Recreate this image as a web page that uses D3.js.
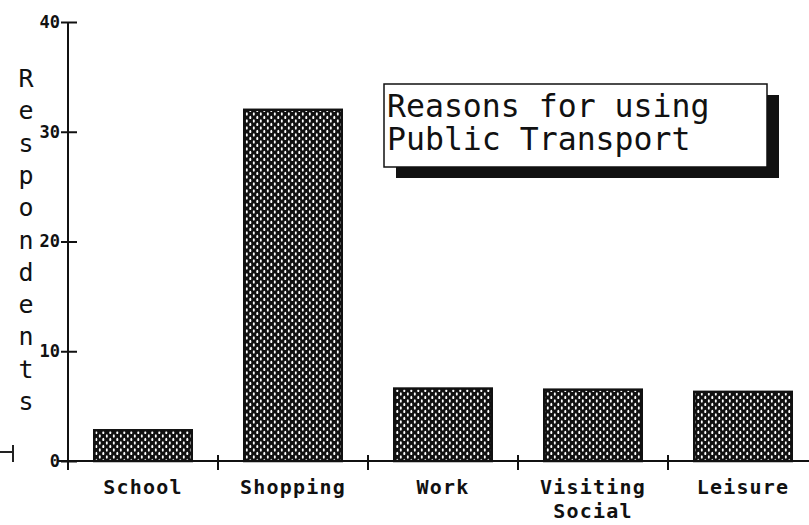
<!DOCTYPE html>
<html>
<head>
<meta charset="utf-8">
<script src="https://cdn.jsdelivr.net/npm/d3@7"></script>
<style>
  body { margin: 0; background: #fff; }
  svg { display: block; }
</style>
</head>
<body>
<svg id="chart" width="809" height="525"></svg>
<script>
// data
const categories = ['School', 'Shopping', 'Work', 'Visiting Social', 'Leisure'];
const respondents = [2.8, 32, 6.6, 6.5, 6.3];
const yTicks = [0, 10, 20, 30, 40];
const yTitle = 'Respondents';
const titleLines = ['Reasons for using', 'Public Transport'];

const svg = d3.select('#chart');
const mono = '"DejaVu Sans Mono", "Liberation Mono", monospace';

const x = d3.scaleBand()
    .domain(categories)
    .range([68, 818])
    .paddingInner(0.35)
    .paddingOuter(0.175);

const y = d3.scaleLinear()
    .domain([0, 40])
    .range([461, 22]);

// dotted fill like the old bitmap pattern
const defs = svg.append('defs');
const pat = defs.append('pattern')
    .attr('id', 'dots')
    .attr('patternUnits', 'userSpaceOnUse')
    .attr('width', 7)
    .attr('height', 7);
pat.append('rect').attr('width', 7).attr('height', 7).attr('fill', '#111');
pat.append('ellipse').attr('cx', 1.8).attr('cy', 2).attr('rx', 1).attr('ry', 1.8).attr('fill', '#fff');
pat.append('ellipse').attr('cx', 5.3).attr('cy', 5.5).attr('rx', 1).attr('ry', 1.8).attr('fill', '#fff');

// bars
svg.selectAll('rect.bar')
    .data(categories)
    .join('rect')
    .attr('class', 'bar')
    .attr('x', d => x(d))
    .attr('width', x.bandwidth())
    .attr('y', (d, i) => y(respondents[i]))
    .attr('height', (d, i) => y(0) - y(respondents[i]))
    .attr('fill', 'url(#dots)')
    .attr('stroke', '#111')
    .attr('stroke-width', 2.5);

// y axis
const yAxis = svg.append('g')
    .attr('transform', 'translate(68,0)')
    .call(d3.axisLeft(y).tickValues(yTicks).tickSize(7).tickPadding(1));
yAxis.select('.domain').remove();
yAxis.selectAll('.tick line')
    .attr('x2', -7)
    .attr('x1', 9)
    .attr('stroke', '#111')
    .attr('stroke-width', 2);
yAxis.selectAll('.tick text')
    .attr('font-family', mono)
    .attr('font-size', 17)
    .attr('font-weight', 'bold')
    .attr('fill', '#111');

svg.append('line')
    .attr('x1', 68).attr('x2', 68)
    .attr('y1', y(40)).attr('y2', y(0) + 9)
    .attr('stroke', '#111')
    .attr('stroke-width', 2);

// x axis
svg.append('line')
    .attr('x1', 58).attr('x2', 809)
    .attr('y1', y(0)).attr('y2', y(0))
    .attr('stroke', '#111')
    .attr('stroke-width', 2);

svg.selectAll('line.xtick')
    .data(categories.slice(1))
    .join('line')
    .attr('class', 'xtick')
    .attr('x1', d => x(d) - x.step() * x.paddingInner() / 2)
    .attr('x2', d => x(d) - x.step() * x.paddingInner() / 2)
    .attr('y1', y(0) - 6)
    .attr('y2', y(0) + 9)
    .attr('stroke', '#111')
    .attr('stroke-width', 2);

const xl = svg.selectAll('text.xlabel')
    .data(categories)
    .join('text')
    .attr('class', 'xlabel')
    .attr('x', d => x(d) + x.bandwidth() / 2)
    .attr('y', 494)
    .attr('text-anchor', 'middle')
    .attr('font-family', mono)
    .attr('font-size', 20)
    .attr('font-weight', 'bold')
    .attr('letter-spacing', 1.2)
    .attr('fill', '#111');
xl.selectAll('tspan')
    .data(d => d.split(' ').map(w => ({ w, x: x(d) + x.bandwidth() / 2 })))
    .join('tspan')
    .attr('x', d => d.x)
    .attr('dy', (d, i) => i ? 24 : 0)
    .text(d => d.w);

// y title, one letter under the other
svg.selectAll('text.ytitle')
    .data(yTitle.split(''))
    .join('text')
    .attr('class', 'ytitle')
    .attr('x', 26)
    .attr('y', (d, i) => 87 + i * 32.3)
    .attr('text-anchor', 'middle')
    .attr('font-family', mono)
    .attr('font-size', 25)
    .attr('fill', '#111')
    .text(d => d);

// stray mark at the lower left edge
svg.append('path')
    .attr('d', 'M0,452H13M13,445V462')
    .attr('fill', 'none')
    .attr('stroke', '#222')
    .attr('stroke-width', 2);

// title box with drop shadow
const box = { x: 384, y: 84, w: 383, h: 83 };
svg.append('rect')
    .attr('x', box.x + 12).attr('y', box.y + 11)
    .attr('width', box.w).attr('height', box.h)
    .attr('fill', '#111');
svg.append('rect')
    .attr('x', box.x).attr('y', box.y)
    .attr('width', box.w).attr('height', box.h)
    .attr('fill', '#fff')
    .attr('stroke', '#111')
    .attr('stroke-width', 1.5);

svg.selectAll('text.title')
    .data(titleLines)
    .join('text')
    .attr('class', 'title')
    .attr('x', box.x + 3)
    .attr('y', (d, i) => 117 + i * 33)
    .attr('font-family', mono)
    .attr('font-size', 31.5)
    .attr('fill', '#111')
    .text(d => d);
</script>
</body>
</html>
